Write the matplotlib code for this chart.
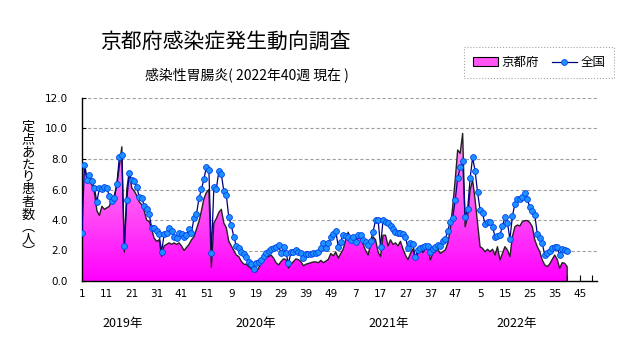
import numpy as np
import matplotlib
matplotlib.use('Agg')
import matplotlib.pyplot as plt
from matplotlib.colors import LinearSegmentedColormap
from matplotlib.patches import Polygon, Patch
from matplotlib.lines import Line2D

plt.rcParams['font.family'] = ['Noto Sans CJK JP', 'DejaVu Sans']

# 京都府 (定点あたり患者数)
kyoto_2019 = [7.2, 7.7, 6.7, 6.5, 6.3, 5.8, 4.6, 4.3, 4.9, 4.7,
              4.8, 4.9, 5.4, 5.6, 6.3, 7.5, 8.8, 1.9, 6.0, 7.2,
              6.1, 5.9, 5.6, 5.2, 5.0, 4.6, 4.0, 3.9, 3.4, 2.8,
              2.6, 2.7, 1.6, 2.3, 2.4, 2.5, 2.4, 2.5, 2.4, 2.5,
              2.3, 2.0, 2.2, 2.4, 2.7, 2.9, 3.4, 3.9, 4.6, 5.4,
              5.8, 6.0]
kyoto_2020 = [0.9, 3.8, 4.1, 4.5, 4.7, 3.8, 3.5, 2.6, 2.3, 2.0,
              1.7, 1.6, 1.3, 1.1, 1.1, 0.95, 0.8, 0.6, 0.6, 0.85,
              1.16, 1.37, 1.5, 1.6, 1.7, 1.5, 1.2, 1.05, 1.27, 1.45,
              1.4, 0.85, 1.1, 1.27, 1.45, 1.4, 1.27, 1.0, 1.1, 1.15,
              1.2, 1.25, 1.25, 1.2, 1.35, 1.2, 1.3, 1.42, 1.8, 1.65,
              1.9, 1.5]
kyoto_2021 = [1.8, 2.1, 2.7, 3.2, 2.7, 2.9, 2.7, 2.8, 2.9, 2.4,
              2.0, 1.7, 2.4, 2.9, 2.7, 1.9, 1.6, 3.0, 3.0, 2.3,
              2.7, 2.4, 2.5, 2.3, 2.6, 2.1, 1.7, 1.4, 1.8, 2.1,
              1.4, 1.8, 2.14, 1.86, 2.08, 2.25, 1.38, 1.81, 1.92, 2.08,
              1.81, 1.92, 2.03, 2.47, 3.34, 4.87, 6.62, 8.59, 8.37, 9.68,
              3.56, 4.22]
kyoto_2022 = [5.97, 6.62, 5.31, 3.78, 2.25, 2.14, 1.92, 2.08, 1.92, 2.08,
              1.70, 2.25, 1.38, 1.81, 2.25, 2.03, 1.6, 2.91, 3.56, 3.67,
              3.61, 3.89, 3.96, 3.96, 3.83, 3.56, 2.69, 2.25, 1.92, 1.38,
              1.05, 0.94, 1.12, 1.42, 1.70, 1.42, 0.83, 1.2, 1.16, 0.94]

# 全国
zenkoku_2019 = [3.17, 7.58, 6.62, 6.93, 6.58, 6.08, 5.18, 6.12, 6.01, 6.14,
                6.08, 5.57, 5.25, 5.42, 6.34, 8.11, 8.24, 2.30, 5.31, 7.06,
                6.62, 6.58, 6.14, 5.53, 5.46, 4.92, 4.70, 4.37, 3.50, 3.50,
                3.28, 3.06, 1.92, 3.06, 3.13, 3.45, 3.30, 2.91, 2.80, 3.17,
                3.08, 2.91, 3.02, 3.39, 3.17, 4.11, 4.37, 5.42, 6.01, 6.67,
                7.50, 7.28]
zenkoku_2020 = [1.86, 6.14, 6.05, 7.20, 7.00, 5.90, 5.65, 4.17, 3.65, 2.91,
                2.30, 2.14, 1.92, 1.75, 1.55, 1.27, 1.09, 0.77, 1.16, 1.22,
                1.38, 1.66, 1.81, 1.99, 2.10, 2.19, 2.25, 2.36, 1.81, 2.21,
                1.81, 1.16, 1.88, 1.92, 2.03, 1.92, 1.81, 1.49, 1.75, 1.75,
                1.77, 1.81, 1.81, 1.92, 2.14, 2.47, 2.14, 2.47, 2.91, 3.08,
                3.28, 2.25]
zenkoku_2021 = [2.58, 3.02, 2.97, 2.91, 2.69, 2.91, 2.58, 3.02, 2.99, 2.69,
                2.58, 2.36, 2.62, 3.24, 4.00, 4.00, 2.25, 4.00, 3.89, 3.78,
                3.61, 3.39, 3.24, 3.17, 3.17, 3.08, 2.91, 2.14, 2.47, 2.43,
                1.55, 2.03, 2.14, 2.25, 2.30, 2.32, 1.92, 2.08, 2.21, 2.36,
                2.30, 2.64, 2.73, 3.28, 3.89, 4.11, 5.31, 6.73, 7.45, 7.87,
                4.17, 4.70]
zenkoku_2022 = [6.73, 8.11, 7.21, 5.81, 4.66, 4.44, 3.72, 3.85, 3.85, 3.56,
                2.91, 2.97, 3.02, 3.61, 4.17, 3.83, 2.73, 4.26, 5.05, 5.36,
                5.36, 5.53, 5.75, 5.36, 4.83, 4.61, 4.33, 3.08, 2.84, 2.47,
                1.70, 1.81, 1.99, 2.19, 2.25, 2.25, 1.70, 2.08, 2.03, 1.99]

week_labels = ['1', '11', '21', '31', '41', '51', '9', '19', '29', '39', '49',
               '7', '17', '27', '37', '47', '5', '15', '25', '35', '45']
year_labels = ['2019年', '2020年', '2021年', '2022年']

kyoto = np.array(kyoto_2019 + kyoto_2020 + kyoto_2021 + kyoto_2022)
zenkoku = np.array(zenkoku_2019 + zenkoku_2020 + zenkoku_2021 + zenkoku_2022)
x = np.arange(len(kyoto))
n_cat = 207

fig = plt.figure(figsize=(6.31, 3.47), dpi=100)
ax = fig.add_axes([82/631, 66/347, 515/631, 183/347])

# グラデーション塗り
verts = [(0, 0)] + list(zip(x, kyoto)) + [(x[-1], 0)]
poly = Polygon(verts, closed=True, facecolor='none', edgecolor='none')
ax.add_patch(poly)
cmap = LinearSegmentedColormap.from_list('pk', ['#ff00ff', '#ff55f5', '#ff99f0'])
grad = np.linspace(0, 1, 256).reshape(-1, 1)
im = ax.imshow(grad, cmap=cmap, extent=[0, n_cat, 0, 10], origin='lower',
               aspect='auto', zorder=1)
im.set_clip_path(poly)
ax.plot(np.append(x, x[-1]), np.append(kyoto, 0), color='#222222', lw=1.0, zorder=2)

ax.plot(x, zenkoku, color='#000080', lw=0.9, marker='o', ms=4.2,
        mfc='#1e90ff', mec='#0044ee', mew=0.6, zorder=3)

ax.set_xlim(0, n_cat)
ax.set_ylim(0, 12)
ax.set_yticks(np.arange(0, 13, 2))
ax.set_yticklabels(['%.1f' % v for v in np.arange(0, 13, 2)])
ax.set_xticks(np.arange(0, 201, 10))
ax.set_xticklabels(week_labels)
ax.set_xticks(np.arange(5, 206, 10), minor=True)
ax.tick_params(axis='x', which='both', direction='in', length=4, width=0.8, pad=6, labelsize=7.5)
ax.tick_params(axis='y', direction='in', length=3, width=0.8, pad=10, labelsize=7.5)
for lab in ax.get_xticklabels() + ax.get_yticklabels():
    lab.set_family(['Liberation Sans Narrow', 'DejaVu Sans'])

ax.yaxis.grid(True, linestyle=(0, (3, 2)), color='#a0a0a0', lw=0.8)
ax.set_axisbelow(True)
for s in ['top', 'right']:
    ax.spines[s].set_visible(False)
for s in ['left', 'bottom']:
    ax.spines[s].set_linewidth(1.0)
    ax.spines[s].set_color('black')

fig.text(100/631, 1 - 42/347, '京都府感染症発生動向調査', fontsize=15, va='center')
fig.text(145/631, 1 - 75/347, '感染性胃腸炎( 2022年40週 現在 )', fontsize=10, va='center')

fig.text(28/631, 1 - 190/347, '\n'.join('定点あたり患者数︵人︶'), fontsize=9.5,
         ha='center', va='center', linespacing=0.95)

for xc, lab in zip([123, 256, 389, 517], year_labels):
    fig.text(xc/631, 1 - 323/347, lab, fontsize=9, ha='center', va='center')

handles = [Patch(facecolor='#ff55f5', edgecolor='black', lw=0.8),
           Line2D([], [], color='#000080', lw=0.9, marker='o', ms=4.2,
                  mfc='#1e90ff', mec='#0044ee', mew=0.6)]
leg = fig.legend(handles, ['京都府', '全国'], loc='center', ncol=2,
                 bbox_to_anchor=(539/631, 1 - 62.5/347), fontsize=9,
                 frameon=True, fancybox=False, handlelength=2.0,
                 handletextpad=0.3, columnspacing=1.0, borderpad=0.7)
leg.get_frame().set_edgecolor('#909090')
leg.get_frame().set_linewidth(0.8)
leg.get_frame().set_linestyle(':')

fig.savefig('out.png', dpi=100)
